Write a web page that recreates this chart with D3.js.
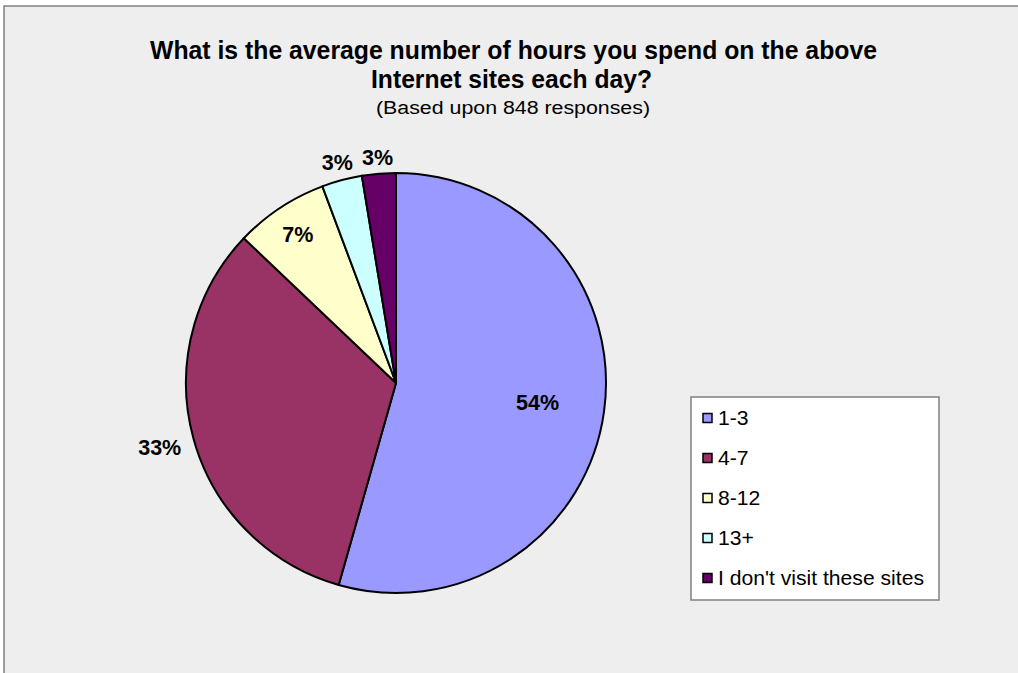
<!DOCTYPE html>
<html><head><meta charset="utf-8">
<script src="https://cdn.jsdelivr.net/npm/d3@7"></script>
<style>html,body{margin:0;padding:0;background:#EEEEEE;overflow:hidden;}svg{display:block;overflow:hidden;}</style>
</head><body>
<script>
const categories = ["1-3", "4-7", "8-12", "13+", "I don't visit these sites"];
const values = [54.4, 32.7, 7.2, 3.1, 2.6];
const colors = ["#9999FF", "#993366", "#FFFFCC", "#CCFFFF", "#660066"];
const titleLines = ["What is the average number of hours you spend on the above", "Internet sites each day?"];
const subtitle = "(Based upon 848 responses)";

const W = 1018, H = 673;
const svg = d3.select("body").append("svg").attr("width", W).attr("height", H);
svg.append("rect").attr("x", 0).attr("y", 0).attr("width", W).attr("height", H).attr("fill", "#FFFFFF");
svg.append("rect").attr("x", 4).attr("y", 6).attr("width", W + 20).attr("height", H + 20).attr("fill", "#EEEEEE")
  .attr("stroke", "#808080").attr("stroke-width", 1.5);

const font = "'Liberation Sans', Arial, sans-serif";
svg.append("text").attr("x", 513.5).attr("y", 59).attr("text-anchor", "middle")
  .attr("font-family", font).attr("font-weight", "bold").attr("font-size", 26)
  .attr("textLength", 727).attr("lengthAdjust", "spacingAndGlyphs").text(titleLines[0]);
svg.append("text").attr("x", 511.5).attr("y", 88).attr("text-anchor", "middle")
  .attr("font-family", font).attr("font-weight", "bold").attr("font-size", 26)
  .attr("textLength", 281).attr("lengthAdjust", "spacingAndGlyphs").text(titleLines[1]);
svg.append("text").attr("x", 513).attr("y", 114).attr("text-anchor", "middle")
  .attr("font-family", font).attr("font-size", 18)
  .attr("textLength", 274).attr("lengthAdjust", "spacingAndGlyphs").text(subtitle);

const cx = 396, cy = 383, r = 210;
const data = categories.map((c, i) => ({cat: c, value: values[i], color: colors[i]}));
const pie = d3.pie().sort(null).value(d => d.value);
const arcs = pie(data);
const arc = d3.arc().innerRadius(0).outerRadius(r);
const g = svg.append("g").attr("transform", `translate(${cx},${cy})`);
g.selectAll("path").data(arcs).join("path").attr("d", arc)
  .attr("fill", d => d.data.color).attr("stroke", "#000").attr("stroke-width", 2).attr("stroke-linejoin", "round");

const labelRadius = [143, 245, 178, 228, 226];
g.selectAll("text.lbl").data(arcs).join("text").attr("class", "lbl")
  .each(function(d, i) {
    const a = (d.startAngle + d.endAngle) / 2;
    const rr = labelRadius[i];
    d3.select(this).attr("x", Math.sin(a) * rr).attr("y", -Math.cos(a) * rr);
  })
  .attr("text-anchor", "middle").attr("dy", "0.35em")
  .attr("font-family", font).attr("font-weight", "bold").attr("font-size", 21.5)
  .text(d => Math.round(d.data.value) + "%");

// legend
const lx = 691, ly = 397, lw = 248, lh = 203;
svg.append("rect").attr("x", lx).attr("y", ly).attr("width", lw).attr("height", lh)
  .attr("fill", "#fff").attr("stroke", "#808080").attr("stroke-width", 1.5);
const ys = d3.scalePoint().domain(categories).range([418, 578]);
const li = svg.selectAll("g.leg").data(data).join("g").attr("class", "leg")
  .attr("transform", d => `translate(${lx}, ${ys(d.cat)})`);
li.append("rect").attr("x", 12).attr("y", -4.5).attr("width", 9).attr("height", 9)
  .attr("fill", d => d.color).attr("stroke", "#000").attr("stroke-width", 1.5);
const lt = li.append("text").attr("x", 27).attr("y", 0).attr("dy", "0.36em")
  .attr("font-family", font).attr("font-size", 20).text(d => d.cat);
// horizontal stretch to match reference glyph widths
const longest = lt.filter(d => d.cat === categories[categories.length - 1]).node().getComputedTextLength();
const sx = 206 / longest;
lt.each(function() {
  const w = this.getComputedTextLength();
  d3.select(this).attr("textLength", w * sx).attr("lengthAdjust", "spacingAndGlyphs");
});
</script>
</body></html>
